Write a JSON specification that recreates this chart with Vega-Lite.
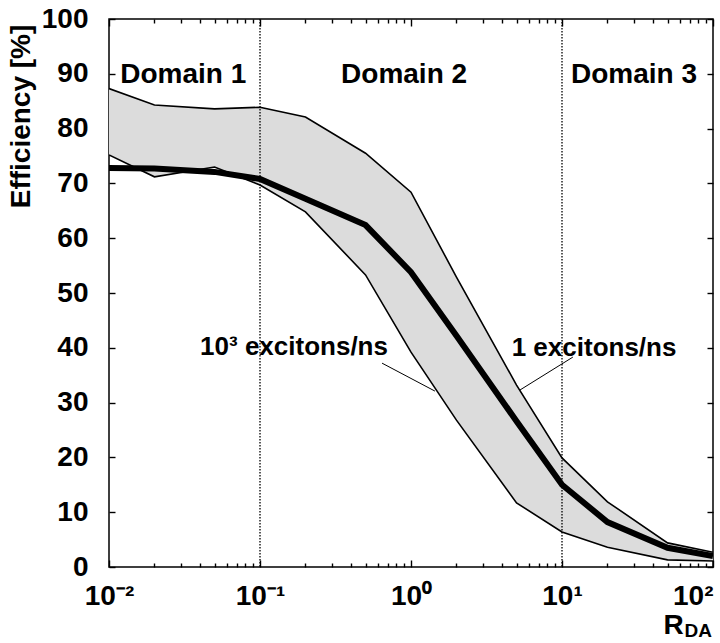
{
  "$schema": "https://vega.github.io/schema/vega-lite/v6.json",
  "width": 604,
  "height": 548,
  "autosize": {"type": "none"},
  "padding": {"left": 109, "top": 19, "right": 7, "bottom": 76},
  "background": "white",
  "config": {
    "view": {"stroke": "black", "strokeWidth": 1.5},
    "font": "Liberation Sans",
    "axis": {
      "grid": false,
      "domain": false,
      "ticks": true,
      "tickColor": "black",
      "tickWidth": 1.4,
      "zindex": 1,
      "labelColor": "black",
      "labelFont": "Liberation Sans",
      "labelFontWeight": "bold",
      "labelFontSize": 28,
      "titleFont": "Liberation Sans",
      "titleFontWeight": "bold",
      "titleColor": "black",
      "titleFontSize": 28
    }
  },
  "data": {
    "values": [
      {"x": 0.01, "lo": 75.2, "mid": 72.8, "hi": 87.3},
      {"x": 0.02, "lo": 71.2, "mid": 72.7, "hi": 84.3},
      {"x": 0.05, "lo": 73.0, "mid": 72.1, "hi": 83.6},
      {"x": 0.1, "lo": 69.7, "mid": 70.8, "hi": 83.9},
      {"x": 0.2, "lo": 64.8, "mid": 67.2, "hi": 82.1},
      {"x": 0.5, "lo": 53.3, "mid": 62.4, "hi": 75.5},
      {"x": 1, "lo": 39.2, "mid": 53.8, "hi": 68.4},
      {"x": 2, "lo": 26.8, "mid": 42.2, "hi": 52.9},
      {"x": 5, "lo": 11.7, "mid": 26.6, "hi": 33.2},
      {"x": 10, "lo": 6.4, "mid": 15.0, "hi": 19.9},
      {"x": 20, "lo": 3.6, "mid": 8.2, "hi": 11.9},
      {"x": 50, "lo": 1.3, "mid": 3.5, "hi": 4.4},
      {"x": 100, "lo": 1.1, "mid": 2.0, "hi": 2.7}
    ]
  },
  "resolve": {"axis": {"x": "independent", "y": "independent"}},
  "layer": [
    {
      "mark": {"type": "area", "fill": "#dcdcdc", "clip": true},
      "encoding": {
        "x": {
          "field": "x", "type": "quantitative",
          "scale": {"type": "log", "domain": [0.01, 100], "nice": false},
          "axis": {
            "orient": "bottom",
            "offset": -7,
            "values": [0.01, 0.1, 1, 10, 100],
            "tickSize": 7,
            "labelPadding": 15,
            "labelExpr": "datum.value < 0.05 ? '10⁻²' : datum.value < 0.5 ? '10⁻¹' : datum.value < 5 ? '10⁰' : datum.value < 50 ? '10¹' : '10²'",
            "labelAlign": {"condition": {"test": "datum.value >= 100", "value": "right"}, "value": "center"},
            "labelFontSize": 28,
            "title": "R",
            "titleX": 554,
            "titleY": 73,
            "titleAlign": "left",
            "titleBaseline": "alphabetic",
            "titleFontSize": 28
          }
        },
        "y": {
          "field": "lo", "type": "quantitative",
          "scale": {"domain": [0, 100], "nice": false},
          "axis": {
            "orient": "left",
            "offset": -6,
            "values": [0, 10, 20, 30, 40, 50, 60, 70, 80, 90, 100],
            "tickSize": 6,
            "labelPadding": 21,
            "title": "Efficiency [%]",
            "titleAngle": -90,
            "titleX": -86,
            "titleY": 97,
            "titleAlign": "center",
            "titleBaseline": "alphabetic"
          }
        },
        "y2": {"field": "hi"}
      }
    },
    {
      "mark": {"type": "line", "color": "black", "strokeWidth": 1.6, "clip": true},
      "encoding": {
        "x": {
          "field": "x", "type": "quantitative",
          "scale": {"type": "log", "domain": [0.01, 100], "nice": false},
          "axis": {"orient": "top", "offset": -7, "values": [0.01, 0.1, 1, 10, 100], "tickSize": 7, "labels": false, "title": null}
        },
        "y": {
          "field": "hi", "type": "quantitative",
          "scale": {"domain": [0, 100], "nice": false},
          "axis": {"orient": "right", "offset": -6, "values": [0, 10, 20, 30, 40, 50, 60, 70, 80, 90, 100], "tickSize": 6, "labels": false, "title": null}
        }
      }
    },
    {
      "mark": {"type": "line", "color": "black", "strokeWidth": 1.6, "clip": true},
      "encoding": {
        "x": {
          "field": "x", "type": "quantitative",
          "scale": {"type": "log", "domain": [0.01, 100], "nice": false},
          "axis": {
            "orient": "bottom",
            "offset": -4,
            "values": [0.02, 0.03, 0.04, 0.05, 0.06, 0.07, 0.08, 0.09, 0.2, 0.3, 0.4, 0.5, 0.6, 0.7, 0.8, 0.9, 2, 3, 4, 5, 6, 7, 8, 9, 20, 30, 40, 50, 60, 70, 80, 90],
            "tickSize": 4,
            "labels": false,
            "title": "DA",
            "titleX": 575,
            "titleY": 73,
            "titleAlign": "left",
            "titleBaseline": "alphabetic",
            "titleFontSize": 19
          }
        },
        "y": {"field": "lo", "type": "quantitative", "scale": {"domain": [0, 100], "nice": false}, "axis": null}
      }
    },
    {
      "mark": {"type": "line", "color": "black", "strokeWidth": 6, "clip": true},
      "encoding": {
        "x": {
          "field": "x", "type": "quantitative",
          "scale": {"type": "log", "domain": [0.01, 100], "nice": false},
          "axis": {
            "orient": "top",
            "offset": -4,
            "values": [0.02, 0.03, 0.04, 0.05, 0.06, 0.07, 0.08, 0.09, 0.2, 0.3, 0.4, 0.5, 0.6, 0.7, 0.8, 0.9, 2, 3, 4, 5, 6, 7, 8, 9, 20, 30, 40, 50, 60, 70, 80, 90],
            "tickSize": 4,
            "labels": false,
            "title": null
          }
        },
        "y": {"field": "mid", "type": "quantitative", "scale": {"domain": [0, 100], "nice": false}, "axis": null}
      }
    },
    {
      "data": {"values": [{"x": 0.1}, {"x": 10}]},
      "mark": {"type": "rule", "color": "black", "strokeWidth": 1.3, "strokeDash": [1.5, 1.5]},
      "encoding": {
        "x": {"field": "x", "type": "quantitative", "scale": {"type": "log", "domain": [0.01, 100], "nice": false}, "axis": null}
      }
    },
    {
      "data": {"values": [
        {"x": 0.031, "y": 88.3, "label": "Domain 1"},
        {"x": 0.9, "y": 88.3, "label": "Domain 2"},
        {"x": 30, "y": 88.3, "label": "Domain 3"}
      ]},
      "mark": {"type": "text", "font": "Liberation Sans", "fontWeight": "bold", "fontSize": 28, "baseline": "alphabetic", "align": "center", "color": "black"},
      "encoding": {
        "x": {"field": "x", "type": "quantitative", "scale": {"type": "log", "domain": [0.01, 100], "nice": false}, "axis": null},
        "y": {"field": "y", "type": "quantitative", "scale": {"domain": [0, 100], "nice": false}, "axis": null},
        "text": {"field": "label"}
      }
    },
    {
      "data": {"values": [
        {"x": 0.168, "y": 38.7, "label": "10³ excitons/ns"},
        {"x": 16.3, "y": 38.5, "label": "1 excitons/ns"}
      ]},
      "mark": {"type": "text", "font": "Liberation Sans", "fontWeight": "bold", "fontSize": 26, "baseline": "alphabetic", "align": "center", "color": "black"},
      "encoding": {
        "x": {"field": "x", "type": "quantitative", "scale": {"type": "log", "domain": [0.01, 100], "nice": false}, "axis": null},
        "y": {"field": "y", "type": "quantitative", "scale": {"domain": [0, 100], "nice": false}, "axis": null},
        "text": {"field": "label"}
      }
    },
    {
      "data": {"values": [
        {"x": 0.643, "y": 37.2, "x2": 1.44, "y2": 32.1},
        {"x": 11.8, "y": 38.3, "x2": 5.27, "y2": 32.3}
      ]},
      "mark": {"type": "rule", "color": "black", "strokeWidth": 1},
      "encoding": {
        "x": {"field": "x", "type": "quantitative", "scale": {"type": "log", "domain": [0.01, 100], "nice": false}, "axis": null},
        "y": {"field": "y", "type": "quantitative", "scale": {"domain": [0, 100], "nice": false}, "axis": null},
        "x2": {"field": "x2"},
        "y2": {"field": "y2"}
      }
    }
  ]
}
